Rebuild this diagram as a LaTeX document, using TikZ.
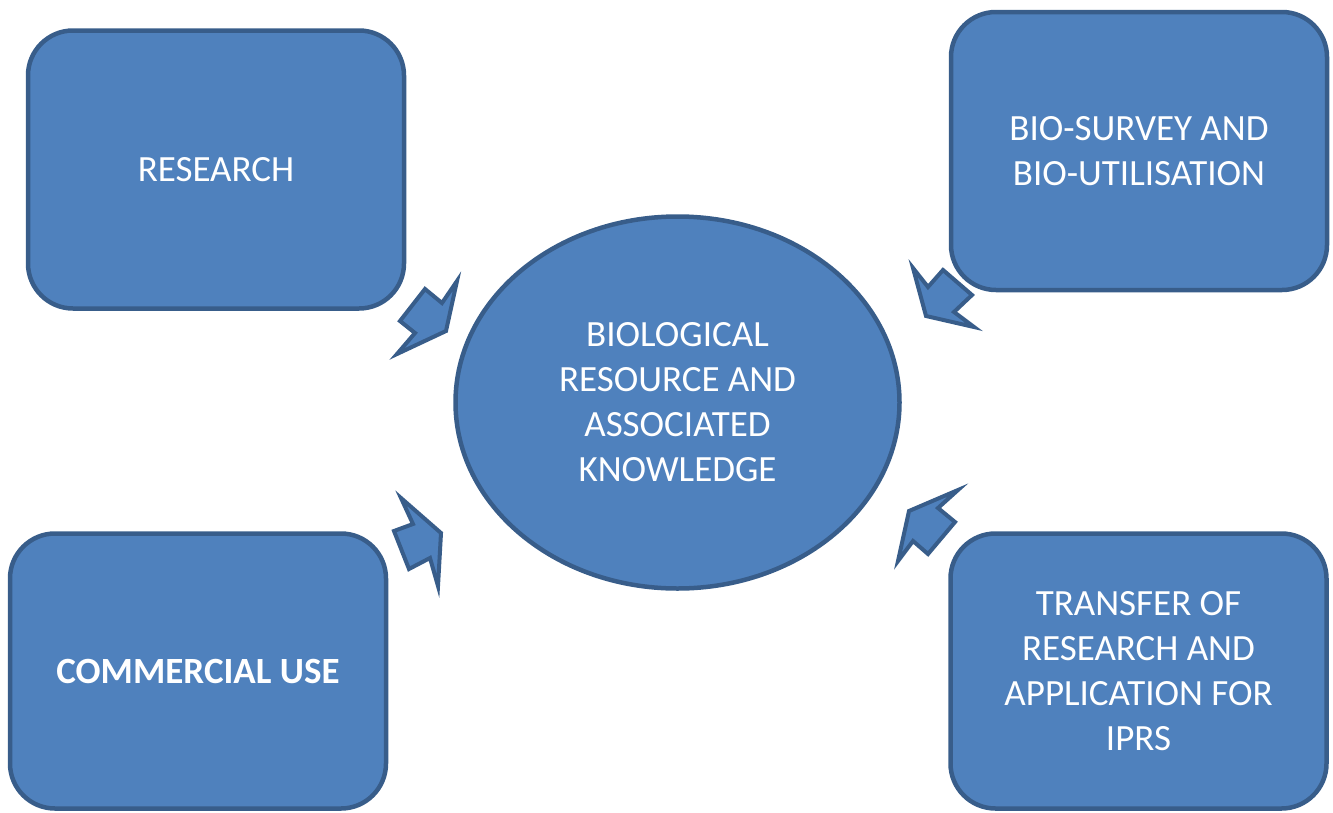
\documentclass[tikz,border=0pt]{standalone}
\usepackage{fontspec}
\setmainfont{Carlito}
\usetikzlibrary{shapes.geometric}

\definecolor{boxfill}{HTML}{4F81BD}
\definecolor{boxline}{HTML}{385D8A}

\begin{document}
\begin{tikzpicture}[x=1pt,y=-1pt]
		\tikzset{block/.style = {shape=rectangle, rounded corners=45pt, draw=boxline, fill=boxfill, line width=4.5pt,
				minimum width=376pt, minimum height=278pt, text=white, align=center,
				font=\fontsize{37}{45}\selectfont},
			hub/.style = {shape=ellipse, draw=boxline, fill=boxfill, line width=4.5pt, inner sep=0pt,
				minimum width=444pt, minimum height=372pt, text=white, align=center,
				font=\fontsize{37}{45}\selectfont},
			blockarrow/.style = {draw=boxline, fill=boxfill, line width=4pt, line join=miter}}

		\useasboundingbox (0,0) rectangle (1333,812);

		\node[hub] (bio) at (677.5,402.5) {BIOLOGICAL\\RESOURCE AND\\ASSOCIATED\\KNOWLEDGE};

		\node[block] (research) at (216,169.5) {RESEARCH};
		\node[block] (survey) at (1139,151) {BIO-SURVEY AND\\BIO-UTILISATION};
		\node[block, minimum height=275pt, font=\fontsize{37}{45}\selectfont\bfseries] (commercial) at (198,671) {COMMERCIAL USE};
		\node[block, minimum height=275pt] (transfer) at (1138.5,671) {TRANSFER OF\\RESEARCH AND\\APPLICATION FOR\\IPRS};

		% block arrows pointing at the hub
		\draw[blockarrow] (457,281) -- (442,303) -- (425,289) -- (400,321) -- (415,333) -- (397,354) -- (446,331) -- cycle;
		\draw[blockarrow] (401,498) -- (413,524) -- (394,531) -- (409,569) -- (430,558) -- (438,586) -- (441,533) -- cycle;
		\draw[blockarrow] (913,268) -- (928,287) -- (943,270) -- (972,295) -- (954,312) -- (974,327) -- (926,316) -- cycle;
		\draw[blockarrow] (958,490) -- (938,508) -- (955,522) -- (928,554) -- (913,541) -- (898,561) -- (909,511) -- cycle;

	\end{tikzpicture}
\end{document}
